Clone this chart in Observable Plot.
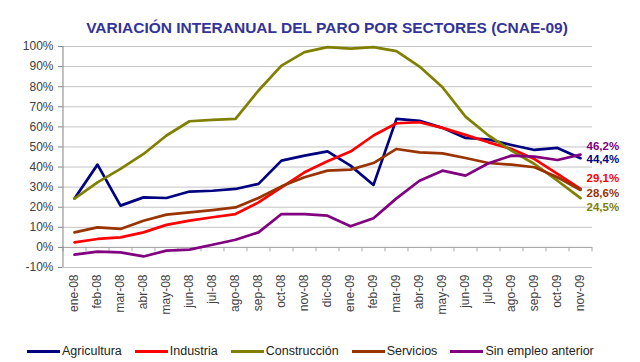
<!DOCTYPE html>
<html>
<head>
<meta charset="utf-8">
<script src="https://cdn.jsdelivr.net/npm/d3@7"></script>
<script src="https://cdn.jsdelivr.net/npm/@observablehq/plot@0.6"></script>
<style>
  html, body { margin: 0; padding: 0; background: #fff; }
  #wrap { position: relative; width: 640px; height: 362px; overflow: hidden; font-family: "Liberation Sans", Arial, sans-serif; }
  #title { position: absolute; left: 14px; width: 626px; top: 19px; line-height: 18px; text-align: center; font-weight: bold; font-size: 15.5px; color: #333399; }
  #chart { position: absolute; left: 0; top: 40px; }
  #legend { position: absolute; left: 27px; top: 342px; height: 18px; display: flex; align-items: center; font-size: 12.5px; color: #222; }
  .item { display: flex; align-items: center; margin-right: 13px; }
  .swatch { width: 33px; height: 3px; margin-right: 2px; }
</style>
</head>
<body>
<div id="wrap">
  <div id="title">VARIACIÓN INTERANUAL DEL PARO POR SECTORES (CNAE-09)</div>
  <div id="chart"></div>
  <div id="legend"></div>
</div>
<script>
const months = ["ene-08","feb-08","mar-08","abr-08","may-08","jun-08","jul-08","ago-08","sep-08","oct-08","nov-08","dic-08",
                "ene-09","feb-09","mar-09","abr-09","may-09","jun-09","jul-09","ago-09","sep-09","oct-09","nov-09"];
const series = ["Agricultura","Industria","Construcción","Servicios","Sin empleo anterior"];
const colors = ["#000080","#ff0000","#808000","#993300","#800080"];

const agricultura  = [24.4,41.2,20.8,24.9,24.6,27.8,28.2,29.1,31.6,43.2,45.7,47.8,40.7,31.1,64.0,63.0,59.5,54.5,53.7,51.0,48.5,49.5,44.4];
const industria    = [2.5,4.2,5.0,7.5,11.2,13.3,15.0,16.6,22.4,29.9,37.4,42.9,47.7,55.7,61.8,62.3,59.5,56.0,52.3,49.0,44.0,36.6,29.1];
const construccion = [24.3,32.4,39.1,46.5,55.7,62.8,63.5,64.0,78.1,90.5,97.2,99.7,98.9,99.7,97.7,90.0,79.7,65.1,55.7,48.2,41.5,33.2,24.5];
const servicios    = [7.5,10.0,9.2,13.3,16.3,17.4,18.6,19.9,24.6,30.4,34.9,38.2,38.7,42.0,49.0,47.3,46.8,44.5,42.0,41.2,39.9,34.9,28.6];
const sinEmpleo    = [-3.6,-2.1,-2.5,-4.5,-1.6,-1.1,1.3,3.8,7.5,16.6,16.6,15.8,10.5,14.5,24.4,33.2,38.2,35.7,41.9,45.7,45.2,43.5,46.2];
const yTicks = [-10,0,10,20,30,40,50,60,70,80,90,100];

const values = [agricultura, industria, construccion, servicios, sinEmpleo];
const data = series.flatMap((s, i) => months.map((m, j) => ({series: s, month: m, value: values[i][j]})));
const last = series.map((s, i) => ({series: s, month: months[months.length - 1], value: values[i][months.length - 1]}));

const W = 640, H = 290, mL = 62, mR = 48, mT = 6, mB = 63;
const step = (W - mL - mR) / months.length;
const labelDy = [1, -11, 9.5, 3, -8];
const fmt = v => v.toFixed(1).replace(".", ",") + "%";

const chart = Plot.plot({
  width: W, height: H,
  marginLeft: mL, marginRight: mR, marginTop: mT, marginBottom: mB,
  style: {fontFamily: "'Liberation Sans', Arial, sans-serif", fontSize: "12px", color: "#404040", background: "white"},
  x: {type: "point", domain: months, padding: 0.5, axis: null},
  y: {domain: [-10, 100], axis: null},
  color: {domain: series, range: colors},
  marks: [
    Plot.ruleY(yTicks, {stroke: "#c4c4c4", strokeWidth: 1}),
    Plot.ruleY([0], {stroke: "#a8a8a8", strokeWidth: 1}),
    Plot.ruleX(months, {x: d => d, y1: 0, y2: -2.2, dx: -step / 2, stroke: "#a8a8a8"}),
    Plot.ruleX([months[months.length - 1]], {x: d => d, y1: 0, y2: -2.2, dx: step / 2, stroke: "#a8a8a8"}),
    Plot.ruleX([months[0]], {x: d => d, y1: -10, y2: 100, dx: -step / 2, stroke: "#808080"}),
    Plot.axisY(yTicks, {anchor: "left", label: null, tickFormat: d => d + "%", tickSize: 4, tickPadding: 5, stroke: "#808080", fill: "#404040", fontSize: 12}),
    Plot.axisX({anchor: "bottom", label: null, tickRotate: -90, tickSize: 0, tickPadding: 7, fill: "#404040", fontSize: 12}),
    Plot.line(data, {x: "month", y: "value", z: "series", stroke: "series", strokeWidth: 2.7, strokeLinejoin: "round"}),
    ...last.map((d, i) => Plot.text([d], {x: "month", y: "value", text: d => fmt(d.value), fill: colors[i],
      textAnchor: "start", dx: 6, dy: labelDy[i], fontWeight: "bold", fontSize: 11.5}))
  ]
});
document.getElementById("chart").appendChild(chart);

const legend = document.getElementById("legend");
series.forEach((s, i) => {
  const item = document.createElement("div");
  item.className = "item";
  const sw = document.createElement("div");
  sw.className = "swatch";
  sw.style.background = colors[i];
  const t = document.createElement("span");
  t.textContent = s;
  item.appendChild(sw); item.appendChild(t);
  legend.appendChild(item);
});
</script>
</body>
</html>
